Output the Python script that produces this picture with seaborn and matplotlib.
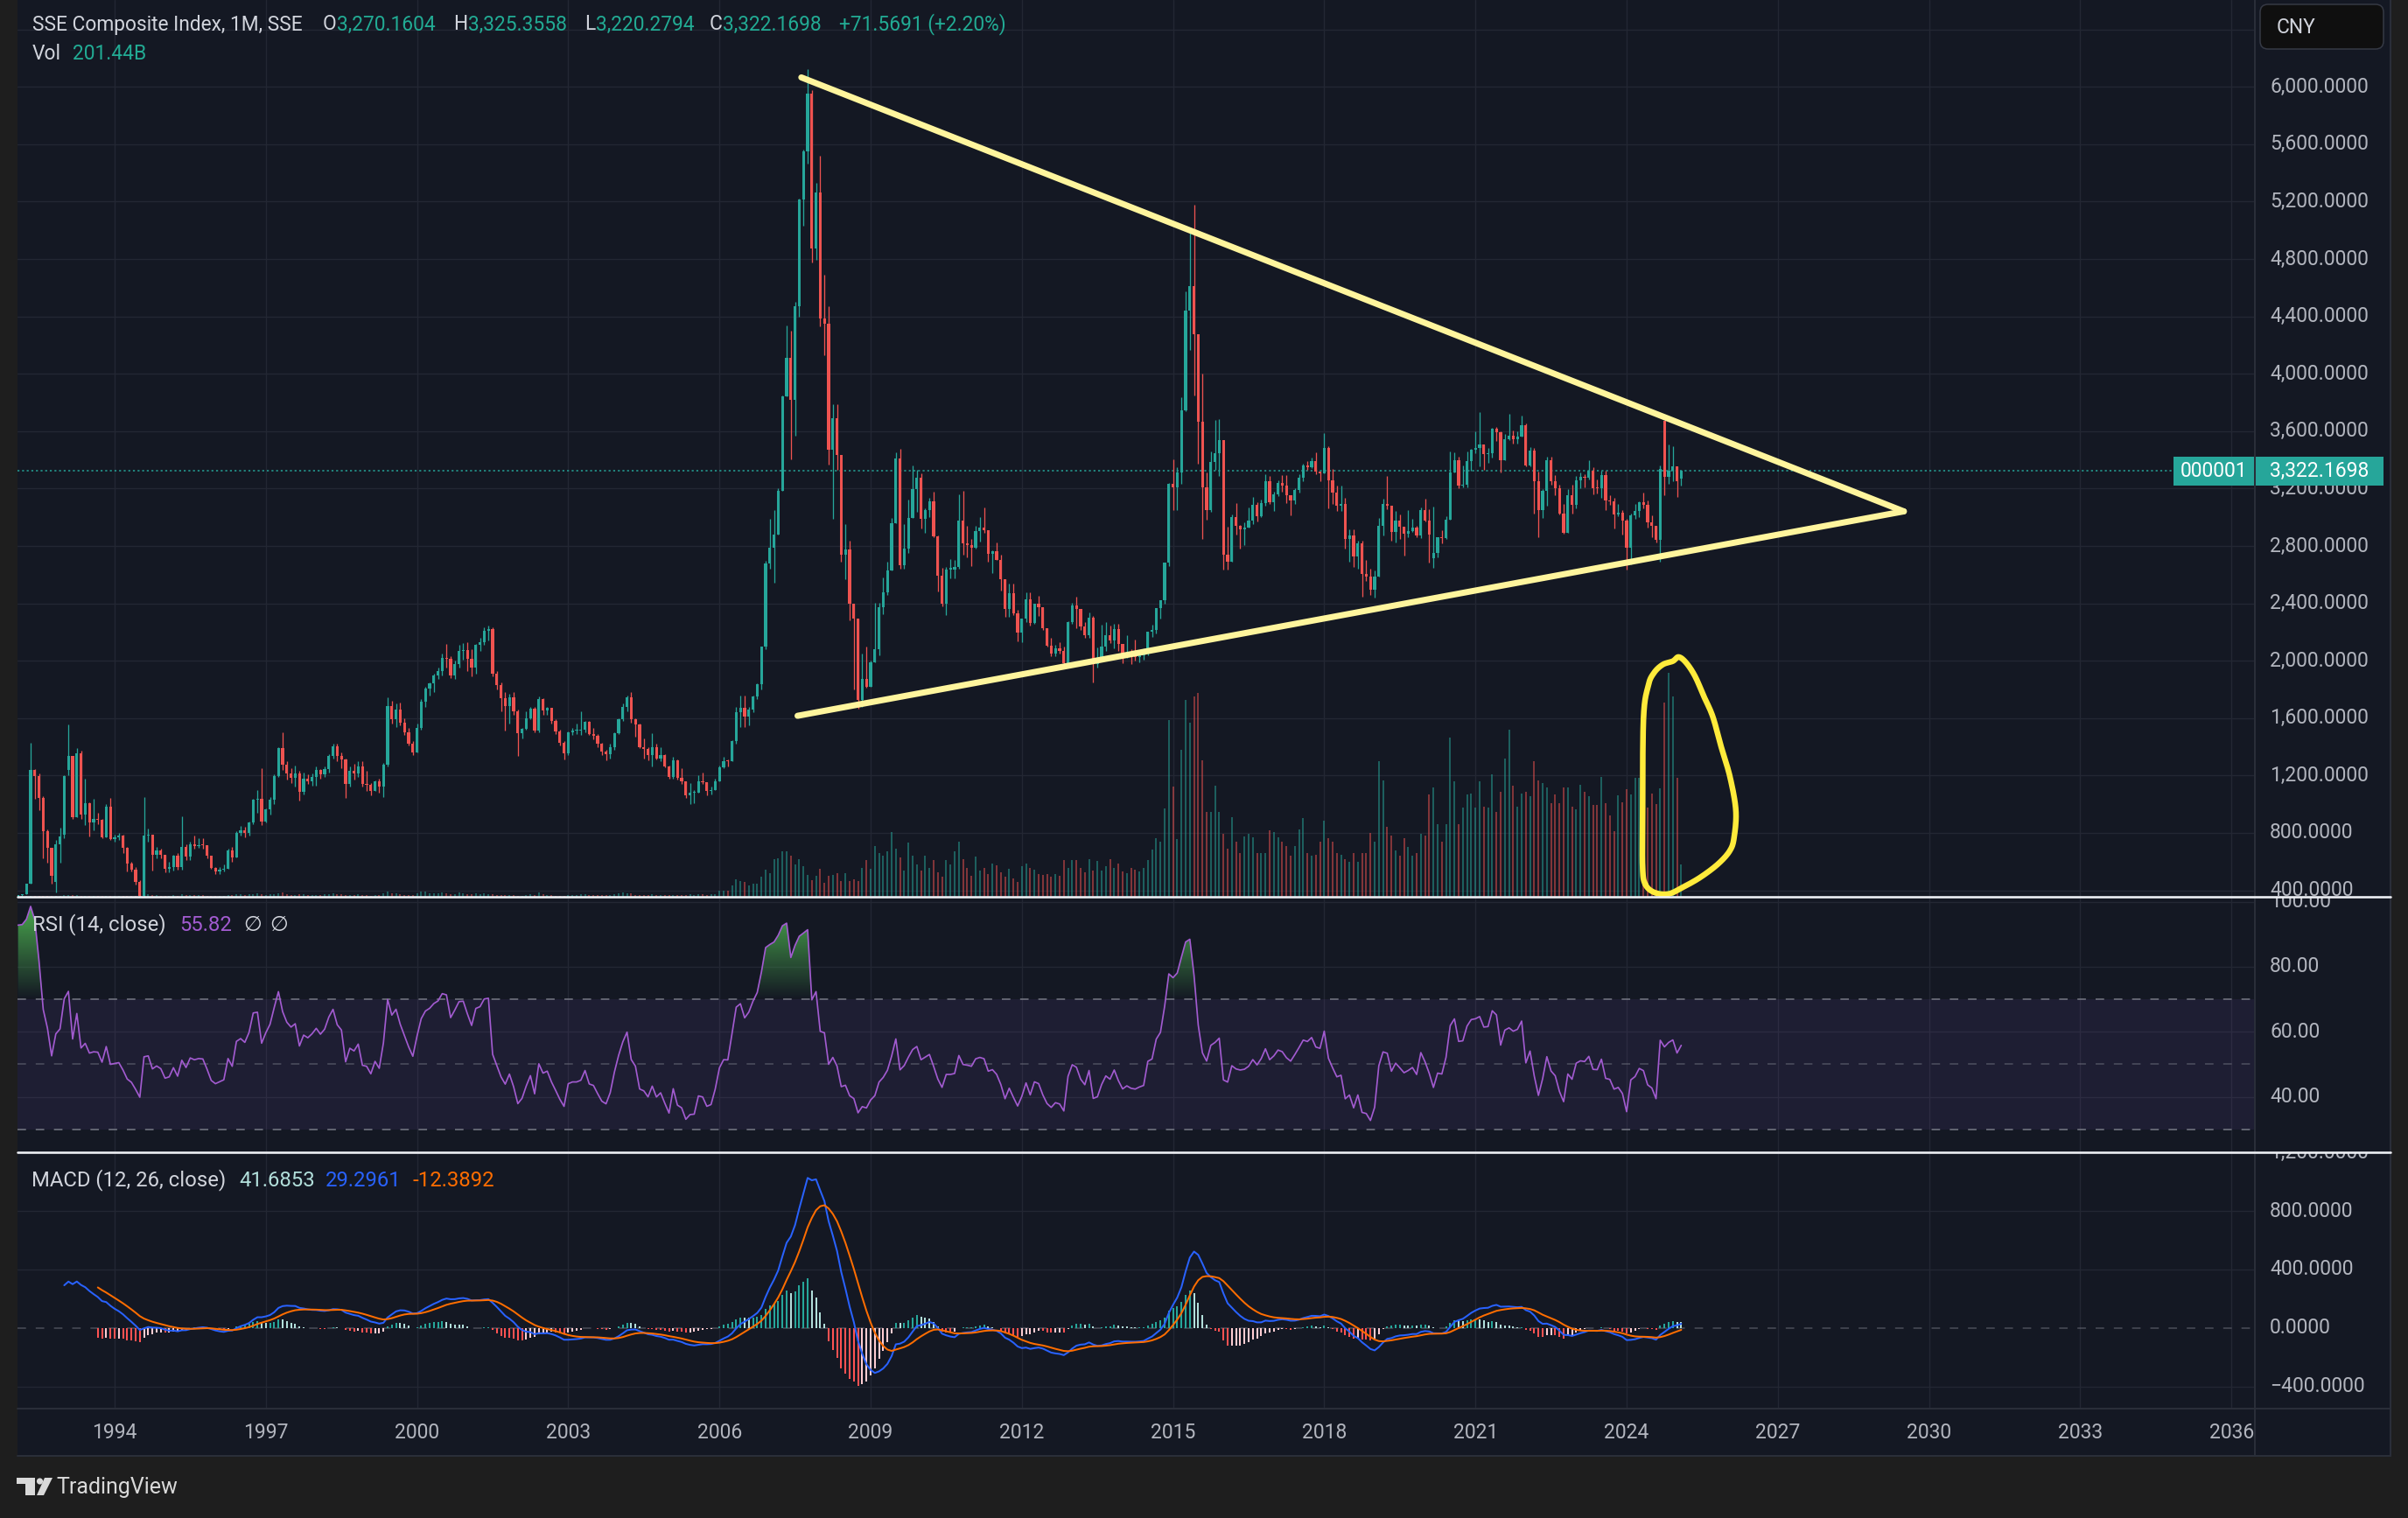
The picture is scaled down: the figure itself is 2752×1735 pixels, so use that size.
import numpy as np
import pandas as pd
import matplotlib
matplotlib.use("Agg")
import matplotlib.pyplot as plt
import matplotlib.transforms as mtransforms
import seaborn as sns
from matplotlib.patches import FancyBboxPatch, Rectangle, Polygon, Circle
from matplotlib.path import Path
from matplotlib.colors import to_rgb, to_rgba

# ---------------------------------------------------------------- data
# Monthly bars of the SSE Composite Index, first bar = Dec 1990
first_open = 96.05

closes = [
    127.6,
    129.97, 133.99, 120.19, 113.94, 114.83, 136.88, 145.08, 179.88, 180.92, 218.59, 259.60, 292.75,  # 1991
    313, 365, 371, 445, 1240, 1195, 1043, 809, 697, 500, 718, 773,                                    # 1992
    1196, 1335, 911, 1355, 927, 1007, 875, 895, 890, 768, 982, 758,                                   # 1993
    770, 780, 693, 585, 545, 459, 361, 779, 790, 646, 677, 648,                                       # 1994
    548, 560, 640, 560, 700, 635, 720, 705, 715, 712, 640, 555,                                       # 1995
    530, 541, 552, 677, 630, 799, 820, 800, 870, 1033, 1040, 880,                                     # 1996
    962, 1033, 1196, 1390, 1278, 1215, 1186, 1217, 1084, 1176, 1160, 1192,                            # 1997
    1236, 1206, 1243, 1339, 1406, 1335, 1310, 1139, 1230, 1215, 1260, 1140,                           # 1998
    1134, 1090, 1158, 1120, 1273, 1685, 1593, 1660, 1570, 1498, 1424, 1359,                           # 1999
    1532, 1715, 1807, 1840, 1898, 1930, 2021, 2015, 1898, 1976, 2068, 2073,                           # 2000
    2011, 1953, 2112, 2130, 2210, 2218, 1909, 1828, 1740, 1681, 1747, 1646,                           # 2001
    1492, 1524, 1600, 1667, 1516, 1732, 1654, 1669, 1581, 1507, 1426, 1357,                           # 2002
    1499, 1511, 1511, 1521, 1577, 1487, 1477, 1421, 1367, 1348, 1397, 1497,                           # 2003
    1590, 1675, 1742, 1595, 1555, 1400, 1386, 1342, 1396, 1320, 1340, 1266,                           # 2004
    1191, 1306, 1181, 1159, 1060, 1081, 1083, 1162, 1155, 1093, 1100, 1162,                           # 2005
    1258, 1299, 1298, 1440, 1641, 1672, 1612, 1658, 1753, 1837, 2099, 2675,                           # 2006
    2786, 2881, 3183, 3841, 4109, 3820, 4471, 5218, 5552, 5954, 4871, 5262,                           # 2007
    4383, 4348, 3472, 3693, 3433, 2736, 2775, 2397, 2293, 1729, 1871, 1821,                           # 2008
    1991, 2082, 2373, 2477, 2632, 2959, 3412, 2668, 2779, 2996, 3195, 3277,                           # 2009
    2989, 3051, 3110, 2870, 2592, 2398, 2638, 2638, 2655, 2979, 2820, 2808,                           # 2010
    2790, 2906, 2928, 2911, 2743, 2762, 2701, 2567, 2359, 2468, 2333, 2199,                           # 2011
    2292, 2428, 2262, 2396, 2373, 2225, 2103, 2047, 2086, 2069, 1980, 2269,                           # 2012
    2385, 2359, 2237, 2177, 2301, 1979, 1993, 2098, 2175, 2141, 2220, 2116,                           # 2013
    2033, 2056, 2033, 2026, 2039, 2048, 2201, 2217, 2364, 2420, 2683, 3235,                           # 2014
    3210, 3310, 3748, 4441, 4612, 4277, 3664, 3206, 3053, 3383, 3446, 3539,                           # 2015
    2738, 2688, 3004, 2938, 2917, 2930, 2979, 3085, 3005, 3100, 3250, 3104,                           # 2016
    3159, 3242, 3223, 3155, 3117, 3192, 3273, 3361, 3349, 3393, 3317, 3307,                           # 2017
    3481, 3259, 3169, 3082, 3095, 2847, 2876, 2725, 2821, 2603, 2588, 2494,                           # 2018
    2585, 2941, 3091, 3078, 2899, 2979, 2933, 2886, 2905, 2929, 2871, 3050,                           # 2019
    2977, 2880, 2750, 2860, 2852, 2985, 3310, 3395, 3218, 3225, 3392, 3473,                           # 2020
    3483, 3509, 3442, 3447, 3615, 3591, 3397, 3544, 3568, 3547, 3564, 3640,                           # 2021
    3361, 3462, 3252, 3047, 3186, 3399, 3253, 3202, 3024, 2893, 3151, 3089,                           # 2022
    3255, 3280, 3273, 3323, 3205, 3202, 3291, 3120, 3110, 3018, 3030, 2975,                           # 2023
    2789, 3015, 3041, 3105, 3087, 2967, 2939, 2842, 3336, 3279, 3326, 3352,                           # 2024
    3250.60, 3322.17,                                                                                  # 2025
]

highs = [
    127.6,
    135.2, 135.0, 134.9, 120.5, 115.5, 137.0, 146.0, 180.5, 191.2, 222.0, 262.0, 293.0,
    316, 366, 374, 448, 1426, 1243, 1212, 1054, 826, 667, 748, 834,
    1200, 1556, 1335, 1390, 1375, 1176, 1013, 1037, 942, 900, 1003, 1044,
    790, 800, 790, 700, 600, 560, 470, 1048, 830, 790, 700, 690,
    650, 600, 650, 660, 917, 720, 740, 780, 760, 760, 715, 640,
    560, 560, 580, 690, 700, 810, 850, 840, 880, 1040, 1100, 1253,
    970, 1050, 1210, 1400, 1501, 1300, 1250, 1270, 1230, 1220, 1210, 1215,
    1260, 1245, 1260, 1350, 1420, 1420, 1360, 1320, 1260, 1280, 1300, 1300,
    1230, 1150, 1165, 1180, 1290, 1746, 1720, 1700, 1710, 1600, 1530, 1440,
    1560, 1730, 1820, 1850, 1910, 1950, 2050, 2114, 2030, 2000, 2110, 2125,
    2132, 2080, 2115, 2160, 2232, 2245, 2230, 1930, 1850, 1780, 1770, 1780,
    1660, 1530, 1650, 1680, 1680, 1748, 1740, 1680, 1670, 1590, 1520, 1440,
    1510, 1530, 1560, 1649, 1580, 1580, 1530, 1490, 1430, 1380, 1420, 1500,
    1600, 1700, 1760, 1783, 1600, 1560, 1460, 1400, 1495, 1420, 1400, 1350,
    1270, 1330, 1310, 1250, 1160, 1150, 1100, 1205, 1223, 1150, 1120, 1180,
    1270, 1330, 1310, 1445, 1680, 1758, 1757, 1680, 1755, 1840, 2100, 2698,
    2990, 3049, 3200, 3850, 4335, 4300, 4500, 5220, 5560, 6124, 5980, 5331,
    5522, 4693, 4468, 3786, 3786, 3433, 2952, 2837, 2333, 2293, 2050, 2100,
    1998, 2402, 2403, 2579, 2688, 2993, 3454, 3478, 2953, 3123, 3361, 3329,
    3306, 3060, 3133, 3181, 2873, 2649, 2652, 2710, 2700, 3159, 3186, 2940,
    2851, 2939, 3002, 3067, 2911, 2767, 2826, 2739, 2533, 2536, 2537, 2357,
    2296, 2478, 2476, 2400, 2453, 2368, 2227, 2160, 2110, 2132, 2099, 2276,
    2405, 2444, 2355, 2270, 2334, 2315, 2092, 2248, 2270, 2243, 2260, 2260,
    2116, 2177, 2079, 2146, 2061, 2087, 2205, 2248, 2367, 2409, 2686, 3239,
    3406, 3350, 3835, 4572, 4986, 5178, 4184, 4000, 3314, 3457, 3678, 3684,
    3539, 2934, 3018, 3098, 2945, 2966, 3070, 3141, 3102, 3123, 3301, 3288,
    3178, 3255, 3295, 3295, 3131, 3205, 3300, 3375, 3390, 3418, 3450, 3308,
    3587, 3495, 3335, 3220, 3219, 3135, 2915, 2918, 2835, 2838, 2704, 2640,
    2630, 2996, 3129, 3288, 3001, 3044, 3019, 2918, 3048, 2991, 2940, 3069,
    3127, 3058, 3074, 2863, 2908, 3008, 3458, 3455, 3425, 3360, 3456, 3475,
    3600, 3731, 3497, 3481, 3625, 3627, 3600, 3581, 3723, 3605, 3597, 3708,
    3651, 3492, 3481, 3318, 3196, 3424, 3425, 3296, 3228, 3092, 3199, 3226,
    3285, 3312, 3300, 3395, 3351, 3264, 3322, 3325, 3152, 3133, 3091, 3052,
    2991, 3025, 3091, 3112, 3174, 3120, 3012, 2941, 3358, 3674, 3509, 3494,
    3352, 3325.36,
]

lows = [
    95.8,
    127.6, 129.5, 120.0, 104.9, 105.8, 114.5, 137.0, 145.1, 178.0, 179.0, 218.6, 259.0,
    292, 313, 360, 370, 443, 1035, 956, 622, 591, 443, 382, 591,
    760, 1199, 900, 911, 900, 854, 773, 820, 860, 760, 768, 748,
    740, 750, 660, 534, 530, 440, 325, 340, 740, 537, 620, 620,
    524, 524, 540, 545, 545, 610, 610, 690, 695, 690, 625, 550,
    512, 515, 530, 550, 600, 630, 780, 770, 780, 860, 940, 855,
    870, 930, 1000, 1190, 1240, 1170, 1150, 1120, 1027, 1070, 1140, 1130,
    1130, 1180, 1190, 1220, 1320, 1300, 1250, 1043, 1120, 1170, 1190, 1120,
    1090, 1064, 1090, 1080, 1050, 1260, 1560, 1540, 1550, 1480, 1410, 1340,
    1360, 1520, 1680, 1760, 1780, 1870, 1900, 1950, 1880, 1870, 1950, 2010,
    1930, 1893, 1910, 2070, 2110, 2140, 1890, 1800, 1650, 1514, 1560, 1620,
    1339, 1460, 1520, 1590, 1500, 1500, 1620, 1620, 1560, 1490, 1410, 1311,
    1340, 1480, 1490, 1480, 1500, 1480, 1450, 1400, 1340, 1307, 1316, 1380,
    1490, 1580, 1650, 1570, 1470, 1390, 1320, 1307, 1260, 1310, 1300, 1259,
    1180, 1180, 1170, 1140, 1043, 998, 1004, 1080, 1140, 1060, 1070, 1100,
    1160, 1250, 1260, 1300, 1420, 1540, 1540, 1550, 1640, 1730, 1800, 2080,
    2640, 2541, 2900, 3200, 3850, 3404, 3566, 4400, 5033, 5465, 4779, 4796,
    4328, 4127, 3365, 2990, 3333, 2693, 2566, 2284, 1802, 1664, 1679, 1814,
    1844, 1990, 2037, 2327, 2460, 2644, 2961, 2639, 2639, 2753, 2995, 3039,
    2920, 2890, 3000, 2860, 2481, 2382, 2320, 2574, 2573, 2642, 2740, 2722,
    2661, 2780, 2828, 2890, 2689, 2610, 2700, 2489, 2307, 2307, 2319, 2134,
    2132, 2270, 2242, 2260, 2310, 2217, 2100, 2031, 2029, 2047, 1949, 1959,
    2259, 2227, 2212, 2162, 2161, 1849, 1951, 2023, 2070, 2121, 2085, 2070,
    1985, 2020, 1974, 1998, 1991, 2010, 2039, 2167, 2193, 2292, 2400, 2660,
    3049, 3049, 3230, 3737, 4164, 3848, 3373, 2850, 2983, 3039, 3330, 3285,
    2638, 2638, 2733, 2880, 2781, 2808, 2940, 2950, 2969, 3000, 3080, 3092,
    3045, 3150, 3180, 3100, 3016, 3090, 3173, 3250, 3330, 3340, 3300, 3254,
    3315, 3062, 3091, 3041, 3041, 2782, 2691, 2653, 2644, 2449, 2554, 2461,
    2440, 2592, 2876, 3058, 2838, 2823, 2849, 2734, 2859, 2895, 2861, 2857,
    2970, 2685, 2646, 2720, 2819, 2848, 2983, 3313, 3202, 3208, 3210, 3325,
    3444, 3356, 3328, 3381, 3417, 3531, 3312, 3402, 3535, 3512, 3514, 3561,
    3357, 3357, 3023, 2863, 2997, 3080, 3226, 3155, 3017, 2885, 2896, 3023,
    3061, 3200, 3208, 3261, 3160, 3164, 3134, 3053, 3088, 2923, 3010, 2882,
    2635, 2671, 2988, 3002, 3061, 2928, 2859, 2826, 2689, 3153, 3233, 3254,
    3140, 3220.28,
]

# monthly volume, billions
volumes_b = [
    0.5,
    0.5, 0.6, 0.6, 0.5, 0.6, 0.8, 0.9, 1.2, 1.5, 1.8, 2.0, 2.2,
    3, 3, 4, 5, 8, 8, 6, 5, 6, 6, 8, 8,
    10, 12, 10, 10, 8, 8, 7, 7, 6, 6, 8, 7,
    8, 7, 8, 8, 7, 7, 8, 16, 14, 10, 9, 8,
    8, 7, 9, 8, 14, 10, 10, 10, 9, 9, 8, 7,
    7, 6, 7, 12, 12, 14, 15, 13, 14, 18, 20, 15,
    13, 14, 18, 22, 26, 14, 12, 12, 14, 14, 12, 12,
    13, 12, 14, 16, 20, 14, 14, 12, 12, 11, 14, 10,
    10, 8, 10, 10, 20, 33, 22, 20, 16, 12, 10, 9,
    22, 30, 30, 24, 22, 22, 26, 24, 18, 16, 26, 22,
    14, 14, 22, 18, 20, 16, 14, 12, 10, 12, 12, 10,
    8, 7, 12, 14, 10, 26, 14, 12, 10, 8, 8, 7,
    12, 10, 12, 16, 16, 12, 10, 10, 10, 9, 12, 14,
    22, 26, 24, 20, 12, 10, 10, 10, 14, 10, 12, 10,
    10, 12, 10, 10, 10, 14, 10, 16, 16, 12, 14, 16,
    40, 40, 38, 70, 110, 100, 90, 69, 82, 82, 123, 167,
    145, 232, 241, 285, 285, 257, 199, 236, 190, 138, 105, 130,
    176, 87, 130, 138, 145, 100, 145, 96, 109, 100, 181, 226,
    172, 317, 272, 254, 285, 404, 299, 245, 163, 335, 254, 199,
    163, 257, 181, 227, 154, 127, 227, 199, 281, 344, 236, 181,
    130, 250, 163, 181, 141, 205, 194, 151, 127, 172, 114, 91,
    190, 205, 178, 167, 141, 136, 141, 127, 141, 130, 227, 178,
    227, 230, 181, 154, 236, 163, 223, 163, 190, 236, 181, 208,
    158, 145, 181, 169, 160, 178, 227, 294, 363, 344, 549, 1100,
    683, 359, 915, 1224, 1080, 1245, 1270, 850, 525, 530, 690, 530,
    390, 300, 495, 345, 270, 375, 390, 370, 270, 270, 270, 415,
    400, 370, 345, 317, 254, 317, 417, 490, 272, 254, 263, 345,
    471, 363, 345, 272, 263, 236, 217, 272, 217, 272, 272, 399,
    345, 843, 726, 435, 381, 290, 254, 363, 308, 254, 272, 390,
    381, 635, 680, 453, 345, 453, 988, 716, 453, 553, 635, 644,
    553, 716, 562, 553, 762, 526, 653, 861, 1037, 689, 562, 644,
    653, 626, 843, 725, 707, 680, 580, 634, 580, 680, 680, 562,
    544, 698, 653, 626, 571, 571, 743, 580, 508, 408, 630, 588,
    669, 636, 742, 742, 650, 555, 642, 577, 675, 1210, 1393, 1245,
    740, 201,
]

# opening prices that visibly gap away from the previous close
gap_open_index = [23, 25, 26, 351, 406, 410]
gap_open_value = [455, 789, 1241, 2716, 3674, 3270.16]

header_ohlc = [3270.1604, 3325.3558, 3220.2794, 3322.1698]
header_change = "+71.5691 (+2.20%)"
header_volume = "201.44B"
rsi_header_value = 55.82
macd_header_values = [41.6853, 29.2961, -12.3892]

tick_years = list(range(1994, 2037, 3))
price_ticks = list(range(400, 6001, 400))
rsi_ticks = [100, 80, 60, 40]
macd_ticks = [1200, 800, 400, 0, -400]

# hand-drawn annotations (month index from Dec 1990, price)
upper_trend_x = [200.5, 463.0]
upper_trend_y = [6066, 3041]
lower_trend_x = [199.6, 463.0]
lower_trend_y = [1616, 3041]
brush_x = [401.4, 400.8, 400.8, 401.0, 402.1, 403.5, 405.6, 408.0, 409.4, 411.2, 413.3, 415.4,
           417.5, 419.5, 421.6, 423.0, 422.6, 421.6, 418.8, 414.6, 410.4, 406.9, 403.5, 401.4]
brush_y = [444, 561, 888, 1588, 1822, 1915, 1973, 1997, 2026, 1985, 1891, 1751,
           1611, 1401, 1191, 958, 771, 677, 584, 491, 421, 374, 386, 444]

# ---------------------------------------------------------------- frame
assert len(closes) == len(highs) == len(lows) == len(volumes_b)
df = pd.DataFrame({"close": closes, "high": highs, "low": lows, "volume": volumes_b})
df["i"] = np.arange(len(df))
df["open"] = df["close"].shift(1).fillna(first_open)
for gi, gv in zip(gap_open_index, gap_open_value):
    df.loc[gi, "open"] = gv
df["high"] = df[["high", "open", "close"]].max(axis=1)
df["low"] = df[["low", "open", "close"]].min(axis=1)


def seeded_ema(values, length, alpha=None):
    v = np.asarray(values, dtype=float)
    out = np.full(v.shape, np.nan)
    a = 2.0 / (length + 1) if alpha is None else alpha
    first = np.flatnonzero(~np.isnan(v))[0]
    start = first + length - 1
    out[start] = v[first:start + 1].mean()
    for k in range(start + 1, len(v)):
        out[k] = a * v[k] + (1 - a) * out[k - 1]
    return out


c = df["close"].to_numpy(float)
d = np.diff(c)
avg_g = seeded_ema(np.clip(d, 0, None), 14, alpha=1 / 14)
avg_l = seeded_ema(np.clip(-d, 0, None), 14, alpha=1 / 14)
with np.errstate(divide="ignore", invalid="ignore"):
    rsi_core = np.where(avg_l == 0, 100.0, 100 - 100 / (1 + avg_g / avg_l))
df["rsi"] = np.concatenate([[np.nan], rsi_core])
df["macd"] = seeded_ema(c, 12) - seeded_ema(c, 26)
df["signal"] = seeded_ema(df["macd"].to_numpy(), 9)
df["hist"] = df["macd"] - df["signal"]

# ---------------------------------------------------------------- style
sns.set_theme(style="dark")
plt.rcParams["font.family"] = ["Roboto", "DejaVu Sans"]
plt.rcParams["lines.scale_dashes"] = False

W, H, DPI = 2752, 1735, 100
PX = 72.0 / DPI
BG = "#141823"
OUTER = "#1e1e1e"
GRID = "#232733"
BORDER = "#2a2e39"
AXT = "#b2b5be"
LBL = "#d1d4dc"
TEAL = "#22ab94"
UP = "#26a69a"
DN = "#ef5350"
RSI_C = "#a25bd0"
AX_FS = 16.5
HD_FS = 16.4
SUB_FS = 17.2

X_L, X_R = 13.875, 546.58
MAIN_Y = (354.3, 6605.6)
RSI_Y = (23.06, 101.48)
MACD_Y = (-550.7, 1203.6)
VOL_MAX = 5576
PX0, PX1, COLX = 20, 2577, 2732
Y_MAIN, Y_RSI, Y_MACD, Y_XAX = 1025, 1316.6, 1610, 1664

fig = plt.figure(figsize=(W / DPI, H / DPI), dpi=DPI, facecolor=OUTER)


def px_axes(x0, y0, x1, y1, label, face=BG):
    ax = fig.add_axes([x0 / W, 1 - y1 / H, (x1 - x0) / W, (y1 - y0) / H], label=label)
    for s in ax.spines.values():
        s.set_visible(False)
    ax.tick_params(left=False, bottom=False, labelleft=False, labelbottom=False)
    ax.set_facecolor(face)
    ax.grid(False)
    return ax


tick_idx = [(y - 1991) * 12 + 1 for y in tick_years]
cols = np.where(df["close"] >= df["open"], UP, DN)

# ---------------------------------------------------------------- main pane
ax_grid = px_axes(PX0, 0, PX1, Y_MAIN, "grid")
ax_grid.set_xlim(X_L, X_R)
ax_grid.set_ylim(*MAIN_Y)
for t in tick_idx:
    ax_grid.axvline(t, color=GRID, lw=1.4 * PX, zorder=0)
for p in range(400, 6801, 400):
    ax_grid.axhline(p, color=GRID, lw=1.4 * PX, zorder=0)

ax_vol = px_axes(PX0, 0, PX1, Y_MAIN, "vol", face="none")
ax_vol.set_xlim(X_L, X_R)
ax_vol.set_ylim(0, VOL_MAX)
vol_cols = [to_rgba(cc, 0.5) for cc in cols]
ax_vol.bar(df["i"], df["volume"], width=0.45, color=vol_cols, linewidth=0)

ax_main = px_axes(PX0, 0, PX1, Y_MAIN, "main", face="none")
ax_main.set_xlim(X_L, X_R)
ax_main.set_ylim(*MAIN_Y)
ax_main.vlines(df["i"], df["low"], df["high"], colors=cols, linewidth=1.3 * PX, zorder=3)
body_lo = np.minimum(df["open"], df["close"])
body_h = np.maximum((df["close"] - df["open"]).abs(), 7.0)
ax_main.bar(df["i"], body_h, bottom=body_lo, width=0.64, color=cols, linewidth=0, zorder=4)

last_close = header_ohlc[3]
ax_main.axhline(last_close, color=UP, lw=1.5 * PX, linestyle=(0, (1.6, 2.2)), zorder=2)

ax_main.plot(upper_trend_x, upper_trend_y, color="#fff59d", lw=7 * PX, solid_capstyle="round", zorder=6)
ax_main.plot(lower_trend_x, lower_trend_y, color="#fff59d", lw=7 * PX, solid_capstyle="round", zorder=6)


def catmull_rom(xs, ys, n=14):
    P = np.column_stack([xs, ys]).astype(float)
    P = np.vstack([P[-2], P, P[1]])
    segs = []
    t = np.linspace(0, 1, n, endpoint=False)[:, None]
    for k in range(1, len(P) - 2):
        p0, p1, p2, p3 = P[k - 1], P[k], P[k + 1], P[k + 2]
        segs.append(0.5 * (2 * p1 + (-p0 + p2) * t + (2 * p0 - 5 * p1 + 4 * p2 - p3) * t ** 2
                           + (-p0 + 3 * p1 - 3 * p2 + p3) * t ** 3))
    segs.append(P[-2][None])
    return np.vstack(segs)


bp = catmull_rom(brush_x, brush_y)
ax_main.plot(bp[:, 0], bp[:, 1], color="#ffeb3b", lw=6.5 * PX, solid_capstyle="round",
             solid_joinstyle="round", zorder=7, clip_on=False)

# "000001" badge on the last-price line
hh = 16.5 / 0.16396
blend = mtransforms.blended_transform_factory(ax_main.transAxes, ax_main.transData)
x_b0 = (2484 - PX0) / (PX1 - PX0)
ax_main.add_patch(Rectangle((x_b0, last_close - hh), 1 - x_b0, 2 * hh, transform=blend,
                            facecolor=UP, edgecolor="none", zorder=8, clip_on=False))
ax_main.text((x_b0 + 1) / 2, last_close, "000001", transform=blend, color="white",
             fontsize=AX_FS, ha="center", va="center", zorder=9)

# ---------------------------------------------------------------- RSI pane
ax_rsi = px_axes(PX0, Y_MAIN, PX1, Y_RSI, "rsi")
for t in tick_idx:
    ax_rsi.axvline(t, color=GRID, lw=1.4 * PX, zorder=0)
for v in [40, 60, 80, 100]:
    ax_rsi.axhline(v, color=GRID, lw=1.4 * PX, zorder=0)
ax_rsi.axhspan(30, 70, color="#7e57c2", alpha=0.1, lw=0, zorder=0.5)
ax_rsi.axhline(70, color="#787b86", lw=1.5 * PX, linestyle=(0, (7, 8)), zorder=1)
ax_rsi.axhline(30, color="#787b86", lw=1.5 * PX, linestyle=(0, (7, 8)), zorder=1)
ax_rsi.axhline(50, color="#787b86", alpha=0.55, lw=1.5 * PX, linestyle=(0, (7, 8)), zorder=1)

rsi_ok = df.dropna(subset=["rsi"])


def gradient_fill(ax, x, y, base, far, color, above):
    yv = np.asarray(y, float)
    mask = yv > base if above else yv < base
    y2 = np.where(mask, yv, base)
    coll = ax.fill_between(x, base, y2, where=mask, interpolate=True,
                           facecolor="none", edgecolor="none")
    paths = coll.get_paths()
    if not paths:
        return
    path = Path.make_compound_path(*paths)
    grad = np.zeros((256, 1, 4))
    grad[..., :3] = to_rgb(color)
    ramp = np.linspace(0, 1, 256)
    grad[:, 0, 3] = ramp if above else ramp[::-1]
    lo, hi = (base, far) if above else (far, base)
    im = ax.imshow(grad, extent=[X_L, X_R, lo, hi], origin="lower", aspect="auto",
                   interpolation="bilinear", zorder=1.5)
    im.set_clip_path(path, transform=ax.transData)


gradient_fill(ax_rsi, rsi_ok["i"], rsi_ok["rsi"], 70, 100, "#4caf50", True)
gradient_fill(ax_rsi, rsi_ok["i"], rsi_ok["rsi"], 30, 0, "#f23645", False)
sns.lineplot(x=rsi_ok["i"].to_numpy(), y=rsi_ok["rsi"].to_numpy(), ax=ax_rsi, color=RSI_C,
             linewidth=1.7 * PX, zorder=3)
ax_rsi.set_xlim(X_L, X_R)
ax_rsi.set_ylim(*RSI_Y)
ax_rsi.set_xlabel("")
ax_rsi.set_ylabel("")

# ---------------------------------------------------------------- MACD pane
ax_macd = px_axes(PX0, Y_RSI, PX1, Y_MACD, "macd")
for t in tick_idx:
    ax_macd.axvline(t, color=GRID, lw=1.4 * PX, zorder=0)
for v in [-400, 400, 800, 1200]:
    ax_macd.axhline(v, color=GRID, lw=1.4 * PX, zorder=0)
ax_macd.axhline(0, color="#787b86", alpha=0.55, lw=1.5 * PX, linestyle=(0, (7, 8)), zorder=1)

mac = df.dropna(subset=["hist"]).copy()
prev = mac["hist"].shift(1)
hist_cols = np.where(mac["hist"] >= 0,
                     np.where(mac["hist"] > prev, "#26a69a", "#b2dfdb"),
                     np.where(mac["hist"] > prev, "#ffcdd2", "#ff5252"))
ax_macd.bar(mac["i"], mac["hist"], width=0.42, color=hist_cols, linewidth=0, zorder=2)
mline = df.dropna(subset=["macd"])
sns.lineplot(x=mline["i"].to_numpy(), y=mline["macd"].to_numpy(), ax=ax_macd, color="#2962ff",
             linewidth=2.0 * PX, zorder=3)
sns.lineplot(x=mac["i"].to_numpy(), y=mac["signal"].to_numpy(), ax=ax_macd, color="#ff6d00",
             linewidth=2.0 * PX, zorder=3)
ax_macd.set_xlim(X_L, X_R)
ax_macd.set_ylim(*MACD_Y)
ax_macd.set_xlabel("")
ax_macd.set_ylabel("")

# ---------------------------------------------------------------- time axis
ax_x = px_axes(PX0, Y_MACD, PX1, Y_XAX, "xaxis")
ax_x.set_xlim(X_L, X_R)
ax_x.set_ylim(0, 1)
for t, yr in zip(tick_idx, tick_years):
    ax_x.text(t, 0.5, str(yr), color=AXT, fontsize=AX_FS, ha="center", va="center")
px_axes(PX1, Y_MACD, COLX, Y_XAX, "xaxis_col")

# ---------------------------------------------------------------- price scales
ax_pm = px_axes(PX1, 0, COLX, Y_MAIN, "pm")
ax_pm.set_xlim(0, COLX - PX1)
ax_pm.set_ylim(*MAIN_Y)
for p in price_ticks:
    ax_pm.text(17, p, f"{p:,.4f}", color=AXT, fontsize=AX_FS, ha="left", va="center",
               clip_on=True, zorder=2)
ax_pm.add_patch(Rectangle((0, last_close - hh), 147, 2 * hh, facecolor=UP, edgecolor="none", zorder=5))
ax_pm.text(17, last_close, f"{last_close:,.4f}", color="white", fontsize=AX_FS, ha="left",
           va="center", zorder=6)

ax_pr = px_axes(PX1, Y_MAIN, COLX, Y_RSI, "pr")
ax_pr.set_xlim(0, COLX - PX1)
ax_pr.set_ylim(*RSI_Y)
for v in rsi_ticks:
    ax_pr.text(17, v, f"{v:.2f}", color=AXT, fontsize=AX_FS, ha="left", va="center", clip_on=True)

ax_pmc = px_axes(PX1, Y_RSI, COLX, Y_MACD, "pmc")
ax_pmc.set_xlim(0, COLX - PX1)
ax_pmc.set_ylim(*MACD_Y)
for v in macd_ticks:
    s = f"{abs(v):,.4f}"
    if v < 0:
        s = "\u2212" + s
    ax_pmc.text(17, v, s, color=AXT, fontsize=AX_FS, ha="left", va="center", clip_on=True)

# ---------------------------------------------------------------- overlay (frame, legends, logo)
ov = px_axes(0, 0, W, H, "overlay", face="none")
ov.set_xlim(0, W)
ov.set_ylim(H, 0)
ov.set_axis_off()

ov.plot([PX1, PX1], [0, Y_XAX], color=BORDER, lw=2 * PX)
ov.plot([COLX, COLX], [0, Y_XAX], color=BORDER, lw=2 * PX)
ov.plot([PX0, COLX], [Y_MACD, Y_MACD], color=BORDER, lw=2 * PX)
ov.plot([PX0, COLX], [Y_XAX, Y_XAX], color=BORDER, lw=2 * PX)
for yy in (Y_MAIN, Y_RSI):
    ov.plot([PX0, COLX], [yy, yy], color="#eef0f5", lw=2.6 * PX)

ov.add_patch(FancyBboxPatch((2583, 5), 141, 51, boxstyle="round,pad=0,rounding_size=9",
                            facecolor="#0f0f0f", edgecolor="#363a45", lw=1.5 * PX))
ov.text(2602, 31, "CNY", color=LBL, fontsize=HD_FS, ha="left", va="center")

o_, h_, l_, c_ = header_ohlc
ov.text(37, 28, "SSE Composite Index, 1M, SSE", color=LBL, fontsize=HD_FS, ha="left", va="center")
for vx, lab, val in [(385, "O", o_), (535, "H", h_), (681, "L", l_), (826, "C", c_)]:
    ov.text(vx - 1, 28, lab, color=LBL, fontsize=HD_FS, ha="right", va="center")
    ov.text(vx, 28, f"{val:,.4f}", color=TEAL, fontsize=HD_FS, ha="left", va="center")
ov.text(959, 28, header_change, color=TEAL, fontsize=HD_FS, ha="left", va="center")
ov.text(37, 61, "Vol", color=LBL, fontsize=HD_FS, ha="left", va="center")
ov.text(83, 61, header_volume, color=TEAL, fontsize=HD_FS, ha="left", va="center")

ov.text(37, 1057, "RSI (14, close)", color=LBL, fontsize=SUB_FS, ha="left", va="center")
ov.text(205, 1057, f"{rsi_header_value:.2f}", color=RSI_C, fontsize=SUB_FS, ha="left", va="center")
ov.text(278, 1057, "\u2205", color=LBL, fontsize=SUB_FS, ha="left", va="center",
        family=["DejaVu Sans"])
ov.text(308, 1057, "\u2205", color=LBL, fontsize=SUB_FS, ha="left", va="center",
        family=["DejaVu Sans"])

m_h, m_m, m_s = macd_header_values
ov.text(36, 1349, "MACD (12, 26, close)", color=LBL, fontsize=SUB_FS, ha="left", va="center")
ov.text(273, 1349, f"{m_h:.4f}", color="#b2dfdb", fontsize=SUB_FS, ha="left", va="center")
ov.text(372, 1349, f"{m_m:.4f}", color="#2962ff", fontsize=SUB_FS, ha="left", va="center")
ov.text(471, 1349, f"{m_s:.4f}", color="#ff6d00", fontsize=SUB_FS, ha="left", va="center")

# TradingView logo
LOGO = "#d9d9d9"
ov.add_patch(Rectangle((19, 1689), 21, 7, facecolor=LOGO, edgecolor="none"))
ov.add_patch(Rectangle((29, 1689), 11, 20, facecolor=LOGO, edgecolor="none"))
ov.add_patch(Circle((45.5, 1693), 3.6, facecolor=LOGO, edgecolor="none"))
ov.add_patch(Polygon([(51, 1689), (60, 1689), (50, 1709), (42, 1709)], closed=True,
                     facecolor=LOGO, edgecolor="none"))
ov.text(64, 1700, "TradingView", color=LOGO, fontsize=18, ha="left", va="center")

fig.savefig("out.png", dpi=DPI, facecolor=fig.get_facecolor())
